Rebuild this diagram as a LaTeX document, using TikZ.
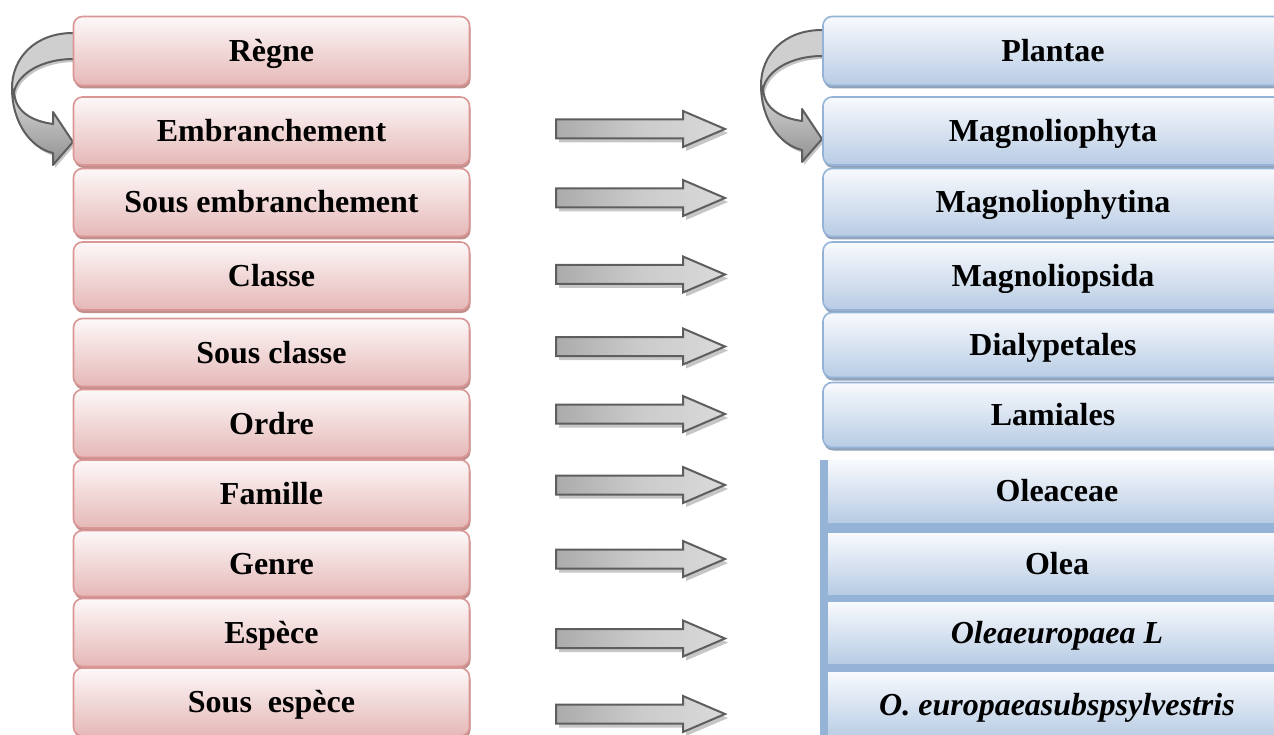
\documentclass[tikz,border=0pt]{standalone}
\usepackage{fontspec}
\setmainfont{Liberation Serif}
\usetikzlibrary{shadows}

\definecolor{pinkline}{HTML}{D99694}
\definecolor{pinktop}{HTML}{FDF8F8}
\definecolor{pinkbot}{HTML}{E5B8B7}
\definecolor{pinkshadow}{HTML}{BF8E8D}
\definecolor{blueline}{HTML}{95B3D7}
\definecolor{bluetop}{HTML}{F8FAFD}
\definecolor{bluebot}{HTML}{B8CCE4}
\definecolor{blueshadow}{HTML}{8FA1B8}
\definecolor{arrowline}{HTML}{5E5E5E}
\definecolor{arrowlight}{HTML}{DADADA}
\definecolor{arrowmid}{HTML}{CBCBCB}
\definecolor{arrowdark}{HTML}{ABABAB}
\definecolor{arrowshadow}{HTML}{C6C6C6}

\tikzset{
  taxbox/.style={rounded corners=9pt, line width=1.6pt, inner sep=0pt,
    text height=21pt, text depth=0pt, minimum height=68pt,
    font=\fontsize{32}{36}\selectfont\bfseries},
  pinkbox/.style={taxbox, draw=pinkline, top color=pinktop, bottom color=pinkbot,
    minimum width=396pt,
    drop shadow={shadow xshift=1pt, shadow yshift=-3pt, fill=pinkshadow, opacity=1}},
  bluebox/.style={taxbox, draw=blueline, top color=bluetop, bottom color=bluebot,
    minimum width=460pt,
    drop shadow={shadow xshift=1pt, shadow yshift=-3pt, fill=blueshadow, opacity=1}},
  flatbox/.style={inner sep=0pt, text height=21pt, text depth=0pt,
    top color=bluetop, bottom color=bluebot, minimum width=458pt,
    font=\fontsize{32}{36}\selectfont\bfseries},
  arrowpen/.style={draw=arrowline, line width=2pt, line join=miter},
  % straight block arrow, origin at the middle of its tail
  blockarrow/.pic={
    \begin{scope}[shift={(3,4)}]
      \fill[arrowshadow] (0,-9.5) -- (127,-9.5) -- (127,-18) -- (169,0)
        -- (127,18) -- (127,9.5) -- (0,9.5) -- cycle;
    \end{scope}
    \draw[arrowpen, left color=arrowdark, right color=arrowlight, middle color=arrowmid]
      (0,-9.5) -- (127,-9.5) -- (127,-18) -- (169,0)
      -- (127,18) -- (127,9.5) -- (0,9.5) -- cycle;
  },
  % curved block arrow, origin at the top of the band where it leaves the box
  curvedarrow/.pic={
    \begin{scope}[shift={(2,3)}]
      \fill[arrowshadow] (-61,55) .. controls (-61,90) and (-42,115) .. (-20,120)
        -- (-20,132) -- (0,109) -- (-20,79) -- (-20,91)
        .. controls (-42,88) and (-58,78) .. (-59,59) -- cycle;
      \fill[arrowshadow] (0,0) .. controls (-38,0) and (-61,25) .. (-61,55)
        -- (-59,59) .. controls (-55,40) and (-30,26) .. (0,26) -- cycle;
    \end{scope}
    \draw[arrowpen, line join=round, top color=arrowlight, bottom color=arrowdark!85!black]
      (-61,55) .. controls (-61,90) and (-42,115) .. (-20,120)
      -- (-20,132) -- (0,109) -- (-20,79) -- (-20,91)
      .. controls (-42,88) and (-58,78) .. (-59,59) -- cycle;
    \draw[arrowpen, line join=round, fill=arrowmid!70!arrowlight]
      (0,0) .. controls (-38,0) and (-61,25) .. (-61,55)
      -- (-59,59) .. controls (-55,40) and (-30,26) .. (0,26);
  }
}

\begin{document}
\begin{tikzpicture}[x=1pt, y=-1pt]
\useasboundingbox (0,0) rectangle (1274,735);

% curved arrows (drawn first, the boxes cover their ends)
\pic at (73,33) {curvedarrow};
\pic at (822,30) {curvedarrow};

% left column: ranks
\node[pinkbox, minimum height=69pt] (L1)  at (271.5,51)    {Règne};
\node[pinkbox] (L2)  at (271.5,131)   {Embranchement};
\node[pinkbox] (L3)  at (271.5,202.5) {Sous embranchement};
\node[pinkbox] (L4)  at (271.5,276)   {Classe};
\node[pinkbox] (L5)  at (271.5,352.5) {Sous classe};
\node[pinkbox] (L6)  at (271.5,423.5) {Ordre};
\node[pinkbox] (L7)  at (271.5,494)   {Famille};
\node[pinkbox, minimum height=66pt] (L8)  at (271.5,563.5) {Genre};
\node[pinkbox] (L9)  at (271.5,632.5) {Espèce};
\node[pinkbox] (L10) at (271.5,702)   {Sous\ \ espèce};

% right column: rounded boxes
\node[bluebox, minimum height=69pt] (R1) at (1053,51)    {Plantae};
\node[bluebox] (R2) at (1053,131)   {Magnoliophyta};
\node[bluebox] (R3) at (1053,202.5) {Magnoliophytina};
\node[bluebox] (R4) at (1053,276)   {Magnoliopsida};
\node[bluebox, minimum height=65pt] (R5) at (1053,345) {Dialypetales};
\node[bluebox, minimum height=65pt] (R6) at (1053,415) {Lamiales};

% right column: flat boxes on a blue frame
\fill[blueline] (820,460) rectangle (1290,740);
\node[flatbox, minimum height=62pt] (R7)  at (1057,491)   {Oleaceae};
\node[flatbox, minimum height=61pt] (R8)  at (1057,563.5) {Olea};
\node[flatbox, minimum height=61pt] (R9)  at (1057,632.5) {\itshape Oleaeuropaea L};
\node[flatbox, minimum height=66pt] (R10) at (1057,705)   {\itshape O. europaeasubspsylvestris};

% block arrows between the columns
\foreach \yy in {129,198,274.5,346.5,414,485,559,638.5,714}
  \pic at (556,\yy) {blockarrow};
\end{tikzpicture}
\end{document}
